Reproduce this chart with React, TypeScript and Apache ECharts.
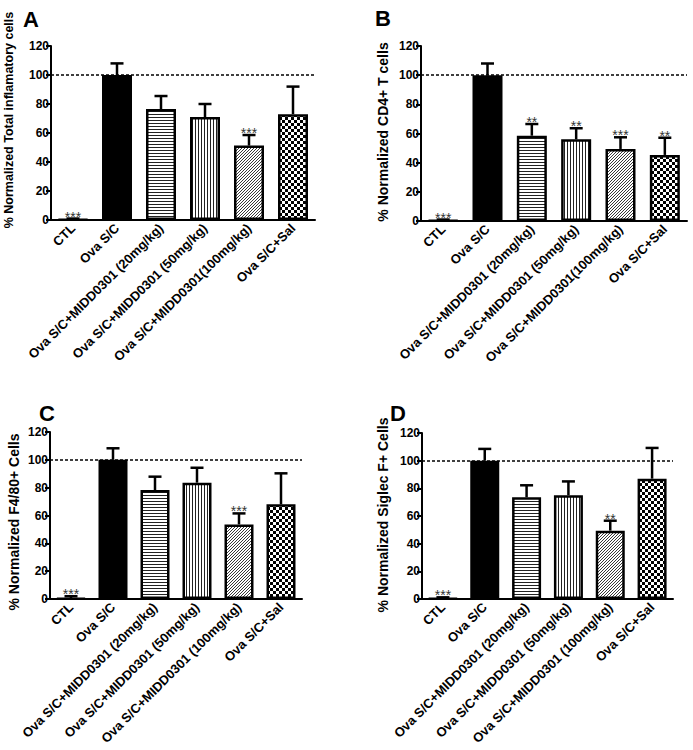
import React, { useEffect, useRef } from "react";
import * as echarts from "echarts";

const categoriesTop = [
  "CTL",
  "Ova S/C",
  "Ova S/C+MIDD0301 (20mg/kg)",
  "Ova S/C+MIDD0301 (50mg/kg)",
  "Ova S/C+MIDD0301(100mg/kg)",
  "Ova S/C+Sal",
];
const categoriesBottom = [
  "CTL",
  "Ova S/C",
  "Ova S/C+MIDD0301 (20mg/kg)",
  "Ova S/C+MIDD0301 (50mg/kg)",
  "Ova S/C+MIDD0301 (100mg/kg)",
  "Ova S/C+Sal",
];

const yTicks = [0, 20, 40, 60, 80, 100, 120];

const meanA = [0.5, 100, 76.5, 71, 51.3, 73];
const errA = [0.5, 8, 9, 9, 7.3, 19];
const starsA = ["***", "", "", "", "***", ""];

const meanB = [0.5, 100, 58.5, 56, 49.4, 45.3];
const errB = [0.5, 8, 8, 7.6, 8, 11.8];
const starsB = ["***", "", "**", "**", "***", "**"];

const meanC = [0.5, 100, 78.3, 83.6, 53.6, 68];
const errC = [1.5, 8.3, 9.6, 10.7, 7.9, 22.3];
const starsC = ["***", "", "", "", "***", ""];

const meanD = [0.3, 100, 73.5, 75, 49.4, 87];
const errD = [0.9, 8.5, 8.7, 10, 7.2, 22.2];
const starsD = ["***", "", "", "", "**", ""];

const titles = [
  "% Normalized Total inflamatory cells",
  "% Normalized CD4+ T cells",
  "% Normalized F4/80+ Cells",
  "% Normalized Siglec F+ Cells",
];
const panelLetters = ["A", "B", "C", "D"];

const FONT = 'Arial, "Liberation Sans", sans-serif';

function makeCanvas(w: number, h: number, draw: (c: CanvasRenderingContext2D) => void) {
  const cv = document.createElement("canvas");
  cv.width = w;
  cv.height = h;
  const ctx = cv.getContext("2d")!;
  ctx.fillStyle = "#fff";
  ctx.fillRect(0, 0, w, h);
  draw(ctx);
  return { image: cv, repeat: "repeat", imageWidth: w, imageHeight: h } as any;
}

function makeFills() {
  const horiz = makeCanvas(3, 3, (c) => {
    c.fillStyle = "#222";
    c.fillRect(0, 0, 3, 1);
  });
  const vert = makeCanvas(3, 3, (c) => {
    c.fillStyle = "#222";
    c.fillRect(0, 0, 1, 3);
  });
  const diag = makeCanvas(3, 3, (c) => {
    c.strokeStyle = "#222";
    c.lineWidth = 0.9;
    c.beginPath();
    c.moveTo(-1, 1);
    c.lineTo(1, -1);
    c.moveTo(0, 3);
    c.lineTo(3, 0);
    c.moveTo(2, 4);
    c.lineTo(4, 2);
    c.stroke();
  });
  const checker = makeCanvas(6, 6, (c) => {
    c.fillStyle = "#000";
    c.fillRect(0, 0, 3, 3);
    c.fillRect(3, 3, 3, 3);
  });
  return ["#ffffff", "#000000", horiz, vert, diag, checker];
}

export default function App() {
  const ref = useRef<HTMLDivElement>(null);

  useEffect(() => {
    if (!ref.current) return;
    const chart = echarts.init(ref.current, null, { renderer: "svg" });
    const fills = makeFills();

    const grids = [
      { left: 51, top: 46, width: 264, height: 174 },
      { left: 421, top: 46, width: 266, height: 175 },
      { left: 50, top: 432, width: 252, height: 167 },
      { left: 422, top: 433, width: 251, height: 166 },
    ];
    const panels = [
      { cats: categoriesTop, mean: meanA, err: errA, stars: starsA },
      { cats: categoriesTop, mean: meanB, err: errB, stars: starsB },
      { cats: categoriesBottom, mean: meanC, err: errC, stars: starsC },
      { cats: categoriesBottom, mean: meanD, err: errD, stars: starsD },
    ];
    const barWidths = [30, 30, 29, 29];

    const xAxes: any[] = [];
    const yAxes: any[] = [];
    const series: any[] = [];

    panels.forEach((p, i) => {
      xAxes.push({
        type: "category",
        gridIndex: i,
        data: p.cats,
        axisLine: { lineStyle: { color: "#000", width: 2 } },
        axisTick: { alignWithLabel: true, length: 5, lineStyle: { color: "#000", width: 2 } },
        axisLabel: {
          rotate: 45,
          interval: 0,
          margin: 6,
          color: "#000",
          fontSize: 13,
          fontWeight: "bold",
          fontFamily: FONT,
        },
      });
      yAxes.push({
        type: "value",
        gridIndex: i,
        min: 0,
        max: 120,
        interval: 20,
        splitLine: { show: false },
        axisLine: { show: true, lineStyle: { color: "#000", width: 2 } },
        axisTick: { show: true, length: 5, lineStyle: { color: "#000", width: 2 } },
        axisLabel: {
          margin: 2,
          color: "#000",
          fontSize: 12,
          fontWeight: "bold",
          fontFamily: FONT,
        },
      });
      series.push({
        type: "bar",
        xAxisIndex: i,
        yAxisIndex: i,
        barWidth: barWidths[i],
        data: p.mean.map((v, j) => ({
          value: v,
          itemStyle: { color: fills[j], borderColor: "#000", borderWidth: 2.5 },
        })),
        markLine: {
          silent: true,
          symbol: ["none", "none"],
          label: { show: false },
          lineStyle: { type: [3, 2], color: "#000", width: 1.5 },
          data: [{ yAxis: yTicks[5] }],
        },
      });
      series.push({
        type: "custom",
        xAxisIndex: i,
        yAxisIndex: i,
        z: 3,
        data: p.mean.map((v, j) => [j, v, p.err[j]]),
        renderItem: (params: any, api: any) => {
          const idx = api.value(0);
          const m = api.value(1);
          const e = api.value(2);
          const base = api.coord([idx, m]);
          const top = api.coord([idx, m + e]);
          const star = p.stars[params.dataIndex];
          const children: any[] = [
            {
              type: "line",
              shape: { x1: base[0], y1: base[1], x2: top[0], y2: top[1] },
              style: { stroke: "#000", lineWidth: 2.5 },
            },
            {
              type: "line",
              shape: { x1: top[0] - 6.5, y1: top[1], x2: top[0] + 6.5, y2: top[1] },
              style: { stroke: "#000", lineWidth: 2.5 },
            },
          ];
          if (star) {
            children.push({
              type: "text",
              x: top[0],
              y: top[1] - 2,
              style: {
                text: star,
                fill: "#333",
                font: `14px ${FONT}`,
                textAlign: "center",
                textVerticalAlign: "middle",
              },
            });
          }
          return { type: "group", children };
        },
      });
    });

    const titlePos = [
      [9, 120],
      [383, 132],
      [14, 522],
      [383, 515],
    ];
    const titleSizes = [12.5, 14, 14, 14];
    const letterPos = [
      [23, 19],
      [375, 18],
      [39, 413],
      [390, 413],
    ];

    const graphic: any[] = [];
    titles.forEach((t, i) => {
      graphic.push({
        type: "text",
        x: titlePos[i][0],
        y: titlePos[i][1],
        rotation: Math.PI / 2,
        style: {
          text: t,
          font: `bold ${titleSizes[i]}px ${FONT}`,
          fill: "#000",
          textAlign: "center",
          textVerticalAlign: "middle",
        },
      });
      graphic.push({
        type: "text",
        x: letterPos[i][0],
        y: letterPos[i][1],
        style: {
          text: panelLetters[i],
          font: `bold 22px ${FONT}`,
          fill: "#000",
          textAlign: "left",
          textVerticalAlign: "middle",
        },
      });
    });

    chart.setOption({
      animation: false,
      backgroundColor: "#fff",
      grid: grids,
      xAxis: xAxes,
      yAxis: yAxes,
      series,
      graphic,
    });

    return () => chart.dispose();
  }, []);

  return (
    <div
      ref={ref}
      style={{ position: "fixed", left: 0, top: 0, width: 693, height: 750, background: "#fff" }}
    />
  );
}
